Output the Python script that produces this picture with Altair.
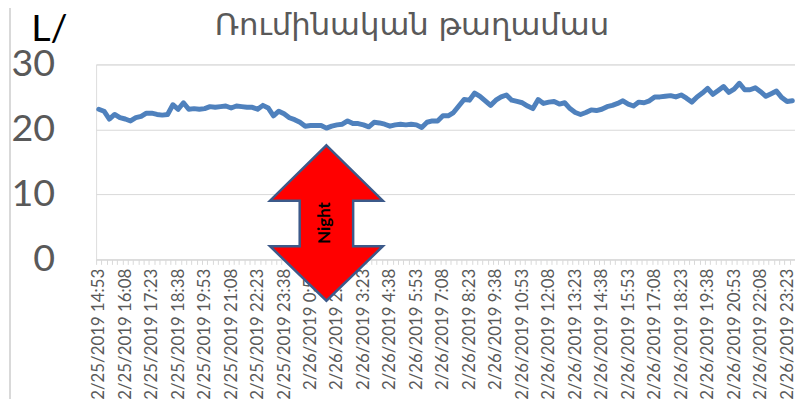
import json
import altair as alt
import pandas as pd

# ---- data -------------------------------------------------------------
title_text = "Ռումինական թաղամաս"
y_title = "L/"
start_time = "2019-02-25 14:53"
n_points = 132
flow = [
    23.1, 22.8, 21.6, 22.3, 21.8, 21.6, 21.3, 21.8, 22.0, 22.5,
    22.5, 22.3, 22.2, 22.3, 23.8, 23.1, 24.1, 23.1, 23.2, 23.1,
    23.2, 23.5, 23.4, 23.5, 23.6, 23.3, 23.6, 23.5, 23.4, 23.4,
    23.1, 23.7, 23.3, 22.1, 22.8, 22.4, 21.8, 21.5, 21.1, 20.5,
    20.6, 20.6, 20.6, 20.2, 20.5, 20.7, 20.8, 21.3, 20.9, 20.9,
    20.7, 20.4, 21.1, 21.0, 20.8, 20.5, 20.7, 20.8, 20.7, 20.8,
    20.7, 20.3, 21.1, 21.3, 21.3, 22.1, 22.1, 22.6, 23.6, 24.6,
    24.5, 25.6, 25.1, 24.4, 23.7, 24.5, 25.0, 25.3, 24.5, 24.3,
    24.1, 23.6, 23.2, 24.6, 24.0, 24.2, 24.3, 23.9, 24.1, 23.2,
    22.6, 22.3, 22.6, 23.0, 22.9, 23.1, 23.5, 23.7, 24.0, 24.4,
    23.9, 23.6, 24.2, 24.1, 24.4, 25.0, 25.0, 25.1, 25.2, 25.0,
    25.3, 24.8, 24.2, 25.0, 25.6, 26.3, 25.4, 26.0, 26.6, 25.7,
    26.2, 27.1, 26.1, 26.1, 26.4, 25.8, 25.1, 25.5, 25.9, 24.9,
    24.3, 24.4,
]
shown_labels = [
    "2/25/2019 14:53", "2/25/2019 16:08", "2/25/2019 17:23", "2/25/2019 18:38",
    "2/25/2019 19:53", "2/25/2019 21:08", "2/25/2019 22:23", "2/25/2019 23:38",
    "2/26/2019 0:53", "2/26/2019 2:08", "2/26/2019 3:23", "2/26/2019 4:38",
    "2/26/2019 5:53", "2/26/2019 7:08", "2/26/2019 8:23", "2/26/2019 9:38",
    "2/26/2019 10:53", "2/26/2019 12:08", "2/26/2019 13:23", "2/26/2019 14:38",
    "2/26/2019 15:53", "2/26/2019 17:08", "2/26/2019 18:23", "2/26/2019 19:38",
    "2/26/2019 20:53", "2/26/2019 22:08", "2/26/2019 23:23",
]
y_ticks = [0, 10, 20, 30]
night_label = "Night"
night_time = "2/26/2019 1:38"
night_level = 5.6

# ---- build table ---------------------------------------------------------
times = pd.date_range(start_time, periods=n_points, freq="15min")
cats = [t.strftime("%-m/%-d/%Y %-H:%M") for t in times]
df = pd.DataFrame({"t": cats, "v": flow})
arrow_df = pd.DataFrame({"t": [night_time], "v": [night_level], "label": [night_label]})
title_df = pd.DataFrame({"label": [title_text]})

label_expr = "indexof(" + json.dumps(shown_labels) + ", datum.value) >= 0 ? datum.value : ''"

x_enc = alt.X(
    "t:N",
    sort=cats,
    bandPosition=0.5,
    scale=alt.Scale(type="band", domain=cats, paddingInner=0, paddingOuter=0),
    axis=alt.Axis(
        title=None,
        labelAngle=-90,
        labelExpr=label_expr,
        labelOverlap=False,
        labelFont="Lato",
        labelFontSize=17,
        labelColor="#595959",
        labelPadding=4,
        labelLimit=300,
        tickBand="extent",
        tickColor="#D9D9D9",
        tickSize=5,
        domainColor="#D9D9D9",
        grid=False,
    ),
)
y_enc = alt.Y(
    "v:Q",
    scale=alt.Scale(domain=[0, 30], nice=False),
    axis=alt.Axis(
        values=y_ticks,
        title=y_title,
        titleAngle=0,
        titleX=-66,
        titleY=-24,
        titleAlign="left",
        titleBaseline="alphabetic",
        titleFont="Lato",
        titleFontSize=38,
        titleFontWeight="normal",
        titleColor="#000000",
        labelFont="Lato",
        labelFontSize=38,
        labelColor="#595959",
        labelPadding=42,
        ticks=False,
        domain=False,
        gridColor="#D9D9D9",
    ),
)

line = alt.Chart(df).mark_line(color="#4F81BD", strokeWidth=5, strokeJoin="round", strokeCap="round").encode(
    x=x_enc, y=y_enc
)

arrow_path = (
    "M0,-1 L0.726,-0.287 L0.344,-0.287 L0.344,0.299 L0.726,0.299 L0,1 "
    "L-0.726,0.299 L-0.344,0.299 L-0.344,-0.287 L-0.726,-0.287 Z"
)
arrow = alt.Chart(arrow_df).mark_point(
    shape=arrow_path, size=157 * 157, filled=True, fill="#FF0000", fillOpacity=1,
    stroke="#3C5A8A", strokeWidth=2.5, opacity=1,
).encode(x=alt.X("t:N", sort=cats, bandPosition=0.5), y=alt.Y("v:Q"))

night = alt.Chart(arrow_df).mark_text(
    angle=270, font="Lato", fontSize=17, fontWeight="bold", color="#000000",
    align="center", baseline="middle", dy=-1,
).encode(x=alt.X("t:N", sort=cats, bandPosition=0.5), y=alt.Y("v:Q"), text="label:N")

title_mark = alt.Chart(title_df).mark_text(
    font="DejaVu Sans", fontSize=31, color="#595959", align="center", baseline="alphabetic",
).encode(x=alt.value(319), y=alt.value(-30), text="label:N")

border = alt.Chart(df).mark_rule(color="#D9D9D9", strokeWidth=1).encode(
    x=alt.value(-87), y=alt.value(-60), y2=alt.value(400)
)

chart = (
    alt.layer(border, line, arrow, night, title_mark)
    .properties(
        width=706,
        height=197,
        autosize=alt.AutoSizeParams(type="none"),
        padding={"left": 89, "top": 55, "right": 0, "bottom": 139},
    )
    .configure_view(stroke=None)
    .configure(background="white")
)

chart.save("out.html", embed_options={"renderer": "svg", "actions": False})
